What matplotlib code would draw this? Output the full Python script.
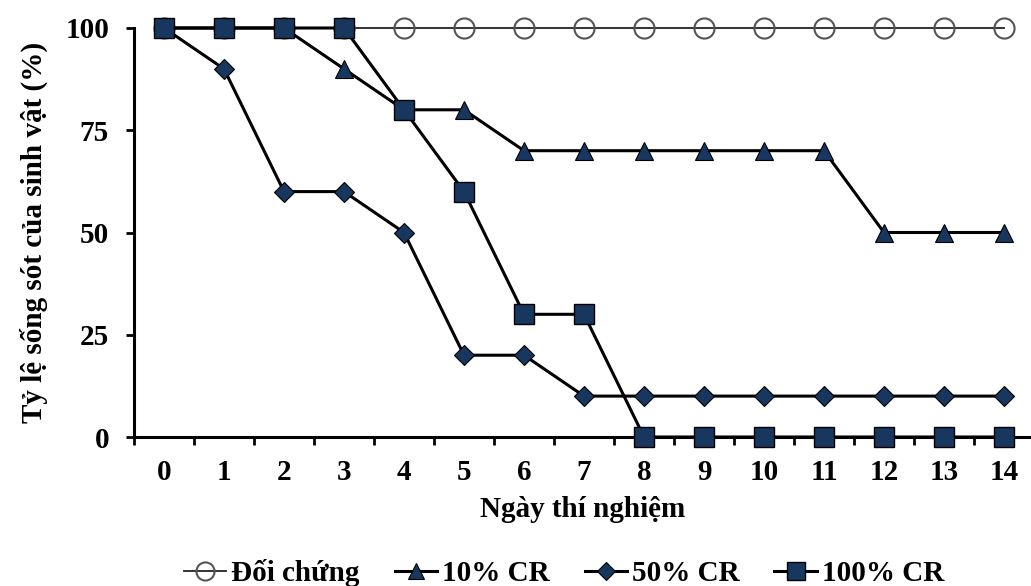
import matplotlib.pyplot as plt
from matplotlib.ticker import FixedLocator, NullFormatter

plt.rcParams["font.family"] = ["Liberation Serif", "DejaVu Serif"]
plt.rcParams["font.weight"] = "bold"

days = list(range(15))
doi_chung = [100] * 15
cr10 = [100, 100, 100, 90, 80, 80, 70, 70, 70, 70, 70, 70, 50, 50, 50]
cr50 = [100, 90, 60, 60, 50, 20, 20, 10, 10, 10, 10, 10, 10, 10, 10]
cr100 = [100, 100, 100, 100, 80, 60, 30, 30, 0, 0, 0, 0, 0, 0, 0]

navy = "#17375e"
fs = 21

fig = plt.figure(figsize=(10.31, 5.86), dpi=100)
ax = fig.add_axes([134 / 1031, (586 - 437) / 586, 1 - 134 / 1031, (437 - 28) / 586])

ax.plot(days, doi_chung, color="#222222", lw=1.3, marker="o", ms=14.5,
        mfc="none", mec="#555555", mew=1.5, label="Đối chứng", zorder=2, clip_on=False)
ax.plot(days, cr10, color="black", lw=2.2, marker="^", ms=13.5,
        mfc=navy, mec="black", mew=0.8, label="10% CR", zorder=3, clip_on=False)
ax.plot(days, cr50, color="black", lw=2.2, marker="D", ms=10.5,
        mfc=navy, mec="black", mew=0.8, label="50% CR", zorder=3, clip_on=False)
ax.plot(days, cr100, color="black", lw=2.2, marker="s", ms=15,
        mfc=navy, mec="black", mew=1, label="100% CR", zorder=4, clip_on=False)

ax.set_xlim(-0.5, 14.45)
ax.set_ylim(0, 100)
ax.set_yticks([0, 25, 50, 75, 100])
ax.set_xticks(days)
ax.xaxis.set_minor_locator(FixedLocator([d - 0.5 for d in days] + [14.5]))
ax.tick_params(axis="x", which="major", length=0, labelsize=fs, pad=16)
ax.tick_params(axis="x", which="minor", length=6, width=2)
ax.tick_params(axis="y", length=6, width=2, labelsize=fs, pad=12)
ax.xaxis.set_minor_formatter(NullFormatter())

for side in ["top", "right"]:
    ax.spines[side].set_visible(False)
for side in ["left", "bottom"]:
    ax.spines[side].set_linewidth(2.2)

ax.set_xlabel("Ngày thí nghiệm", fontsize=fs, fontweight="bold", labelpad=7)
ax.set_ylabel("Tỷ lệ sống sót của sinh vật (%)", fontsize=fs, fontweight="bold", labelpad=12)

ax.legend(loc="center", bbox_to_anchor=((564 - 134) / 897, (437 - 573) / 409), ncol=4,
          frameon=False, fontsize=fs, handlelength=1.45, handletextpad=0.17,
          columnspacing=1.2, markerscale=0.9, borderpad=0)

fig.savefig("out.png", dpi=100)
